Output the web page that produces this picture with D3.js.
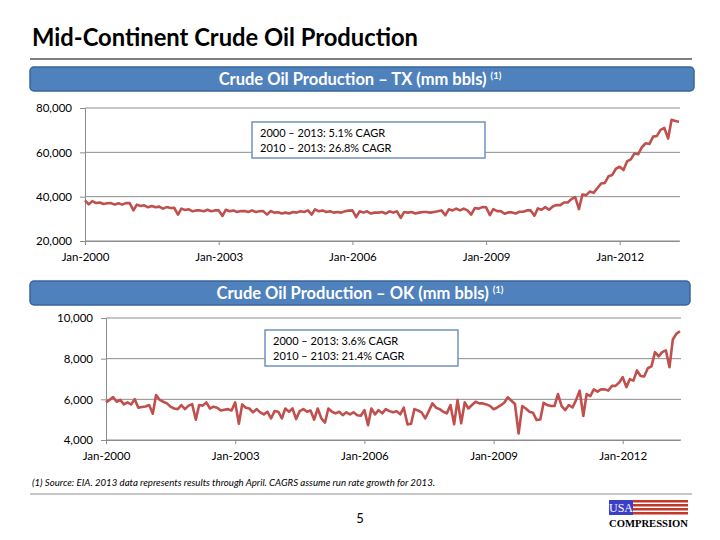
<!DOCTYPE html>
<html>
<head>
<meta charset="utf-8">
<script src="https://cdn.jsdelivr.net/npm/d3@7/dist/d3.min.js"></script>
<style>
  html, body { margin: 0; padding: 0; background: #fff; }
  svg { display: block; font-family: Lato, "Open Sans", sans-serif; }
</style>
</head>
<body>
<svg id="chart" width="720" height="540"></svg>
<script>
// ---------------- DATA ----------------
const titleText = "Mid-Continent Crude Oil Production";
const txHeader = "Crude Oil Production \u2013 TX (mm bbls)";
const okHeader = "Crude Oil Production \u2013 OK (mm bbls)";
const footnoteText = "(1) Source: EIA. 2013 data represents results through April. CAGRS assume run rate growth for 2013.";
const txNotes = ["2000 \u2013 2013: 5.1% CAGR", "2010 \u2013 2013:  26.8% CAGR"];
const okNotes = ["2000 \u2013 2013: 3.6% CAGR", "2010 \u2013 2103: 21.4% CAGR"];

// months Jan-2000 .. May-2013 (161 monthly points)
const startMonth = new Date(2000, 0, 1);
const endMonth = new Date(2013, 4, 1);
const xTickYears = [2000, 2003, 2006, 2009, 2012];
const xTickLabels = ["Jan-2000", "Jan-2003", "Jan-2006", "Jan-2009", "Jan-2012"];

const txTicks = [20000, 40000, 60000, 80000];
const okTicks = [4000, 6000, 8000, 10000];

// Texas monthly crude production (thousand bbls)
const txProduction = [
  38300,36500,38000,37100,37400,36700,37000,37100,36400,37000,36400,37100,
  37100,33800,36400,35800,36100,35200,35800,35200,35500,34600,35300,34900,
  35000,31900,34600,34000,34300,33400,33800,33800,33400,34100,33400,33800,
  33800,31300,34100,33400,33800,33100,33500,33500,33100,33800,33100,33400,
  33500,31900,33500,32800,33000,32400,32800,32400,33100,32800,33400,33100,
  33800,31900,34300,33400,33800,33100,33400,32800,33100,32800,33400,33700,
  33800,30800,33400,32800,33400,32400,32800,32800,33100,32400,33400,32800,
  33400,30400,33100,32800,33100,32400,32800,33100,33100,32800,33100,33400,
  33800,31600,34300,33800,34600,33800,34600,33800,31900,34900,34600,35300,
  35200,31700,34400,33500,33500,32300,32900,32900,32400,33200,33200,33800,
  33800,31400,34700,34100,35300,34100,35600,36200,36200,37400,37400,38900,
  39800,34400,41000,40700,42300,41700,43800,45900,46200,49200,49800,52600,
  53500,52000,55900,56800,59500,59200,62300,64100,63800,67100,67400,70100,
  71000,66200,74700,74100,73800
];

// Oklahoma monthly crude production (thousand bbls)
const okProduction = [
  5850,5970,6110,5880,5970,5750,5850,5750,6010,5590,5620,5650,
  5720,5290,6210,5970,5880,5800,5640,5550,5520,5720,5520,5690,
  5760,5000,5720,5690,5850,5550,5640,5590,5450,5490,5520,5450,
  5850,4800,5750,5590,5550,5360,5520,5360,5260,5390,5060,5420,
  5390,5060,5550,5390,5550,5030,5420,5520,5390,5450,5000,5550,
  5060,4860,5550,5390,5310,5390,5220,5360,5260,5360,5220,5190,
  5470,4730,5550,5260,5470,5310,5520,5420,5360,5420,5260,5590,
  4770,4800,5520,5450,5360,5060,5420,5800,5590,5520,5390,5310,
  5720,4770,5970,4820,5850,5550,5720,5880,5800,5800,5750,5680,
  5510,5600,5700,5830,6100,5930,5770,4320,5670,5550,5390,5340,
  4980,5010,5830,5720,5670,5670,6260,5670,5470,5720,5600,5960,
  6430,5180,6260,6160,6490,6380,6490,6490,6430,6660,6660,6820,
  7090,6600,6990,6920,7420,7150,7120,7530,7620,8320,8110,8320,
  8410,7580,8940,9230,9350
];

// ---------------- DRAW ----------------
const svg = d3.select("#chart");
const months = d3.timeMonth.range(startMonth, d3.timeMonth.offset(endMonth, 1));
const tickDates = xTickYears.map(y => new Date(y, 0, 1));

// Title
svg.append("text").attr("x", 32).attr("y", 46)
  .attr("font-size", 25).attr("font-weight", 700).attr("fill", "#000")
  .attr("textLength", 386).attr("lengthAdjust", "spacingAndGlyphs")
  .text(titleText);
svg.append("line").attr("x1", 30).attr("x2", 692).attr("y1", 59).attr("y2", 59)
  .attr("stroke", "#808080").attr("stroke-width", 2);

function header(y, x1, x2, label) {
  svg.append("rect").attr("x", x1).attr("y", y).attr("width", x2 - x1).attr("height", 24)
    .attr("rx", 4).attr("fill", "#4F81BD").attr("stroke", "#38659A").attr("stroke-width", 1.5);
  const t = svg.append("text").attr("x", 360).attr("y", y + 18)
    .attr("text-anchor", "middle").attr("fill", "#fff").attr("font-weight", 700)
    .attr("font-size", 16.5);
  t.append("tspan").text(label + " ");
  t.append("tspan").attr("font-size", 9.5).attr("dy", -6).text("(1)");
}

function chart(cfg) {
  const x = d3.scaleTime().domain([startMonth, endMonth]).range([cfg.left, cfg.right]);
  const y = d3.scaleLinear().domain([cfg.ticks[0], cfg.ticks[cfg.ticks.length - 1]])
    .range([cfg.bottom, cfg.top]);
  const g = svg.append("g");

  // gridlines + left axis
  const yAxis = d3.axisLeft(y).tickValues(cfg.ticks).tickFormat(d3.format(",")).tickSize(5).tickPadding(8);
  const ya = g.append("g").attr("transform", `translate(${cfg.left},0)`).call(yAxis);
  ya.select(".domain").attr("stroke", "#8c8c8c");
  ya.selectAll(".tick line").attr("stroke", "#8c8c8c");
  ya.selectAll(".tick text").attr("font-size", 11.5).attr("fill", "#000")
    .attr("font-family", "Lato, sans-serif");
  g.append("g").selectAll("line").data(cfg.ticks).join("line")
    .attr("x1", cfg.left).attr("x2", cfg.right + 1)
    .attr("y1", d => y(d)).attr("y2", d => y(d))
    .attr("stroke", "#8c8c8c").attr("stroke-width", 1);

  // bottom axis
  const xAxis = d3.axisBottom(x).tickValues(tickDates)
    .tickFormat((d, i) => xTickLabels[i]).tickSize(4).tickSizeOuter(0).tickPadding(8);
  const xa = g.append("g").attr("transform", `translate(0,${cfg.bottom})`).call(xAxis);
  xa.select(".domain").attr("stroke", "#8c8c8c");
  xa.selectAll(".tick line").attr("stroke", "#8c8c8c");
  xa.selectAll(".tick text").attr("font-size", 11.5).attr("fill", "#000")
    .attr("font-family", "Lato, sans-serif");

  // line
  const line = d3.line().x((d, i) => x(months[i])).y(d => y(d));
  g.append("path").datum(cfg.data).attr("d", line)
    .attr("fill", "none").attr("stroke", "#C0504D").attr("stroke-width", 2.6)
    .attr("stroke-linejoin", "round");

  // annotation box
  const b = cfg.box;
  g.append("rect").attr("x", b.x).attr("y", b.y).attr("width", b.w).attr("height", b.h)
    .attr("fill", "#fff").attr("stroke", "#7092BE").attr("stroke-width", 1.5);
  cfg.notes.forEach((n, i) => {
    g.append("text").attr("x", b.x + 8).attr("y", b.y + 15 + i * 15)
      .attr("font-size", 11).attr("fill", "#000").text(n);
  });
}

header(67, 30, 694, txHeader);
chart({ left: 85, right: 679, top: 108, bottom: 241, ticks: txTicks, data: txProduction,
        box: { x: 252, y: 122, w: 233, h: 36 }, notes: txNotes });

header(281, 30, 690, okHeader);
chart({ left: 106, right: 680, top: 318, bottom: 440, ticks: okTicks, data: okProduction,
        box: { x: 265, y: 330, w: 193, h: 36 }, notes: okNotes });

// Footnote
svg.append("text").attr("x", 32).attr("y", 486).attr("font-size", 9)
  .attr("font-style", "italic").attr("fill", "#000")
  .attr("textLength", 403).attr("lengthAdjust", "spacingAndGlyphs")
  .text(footnoteText);
svg.append("line").attr("x1", 30).attr("x2", 692).attr("y1", 494).attr("y2", 494)
  .attr("stroke", "#c8c8c8").attr("stroke-width", 2);

// Page number
svg.append("text").attr("x", 360).attr("y", 523).attr("text-anchor", "middle")
  .attr("font-size", 13).attr("fill", "#000").text("5");

// Logo
const logo = svg.append("g").attr("transform", "translate(609,500)");
logo.append("rect").attr("x", 0).attr("y", 0).attr("width", 24).attr("height", 15).attr("fill", "#3B3FC8");
logo.append("text").attr("x", 12).attr("y", 12).attr("text-anchor", "middle")
  .attr("font-family", "Liberation Serif, serif").attr("font-size", 12).attr("fill", "#fff").text("USA");
[0, 4, 8, 12].forEach(s => {
  logo.append("rect").attr("x", 24).attr("y", s).attr("width", 55).attr("height", 2.5).attr("fill", "#C0392B");
});
logo.append("text").attr("x", 0).attr("y", 27)
  .attr("font-family", "Liberation Serif, serif").attr("font-weight", 700).attr("font-size", 11)
  .attr("fill", "#000").attr("textLength", 79).attr("lengthAdjust", "spacingAndGlyphs")
  .text("COMPRESSION");
</script>
</body>
</html>
